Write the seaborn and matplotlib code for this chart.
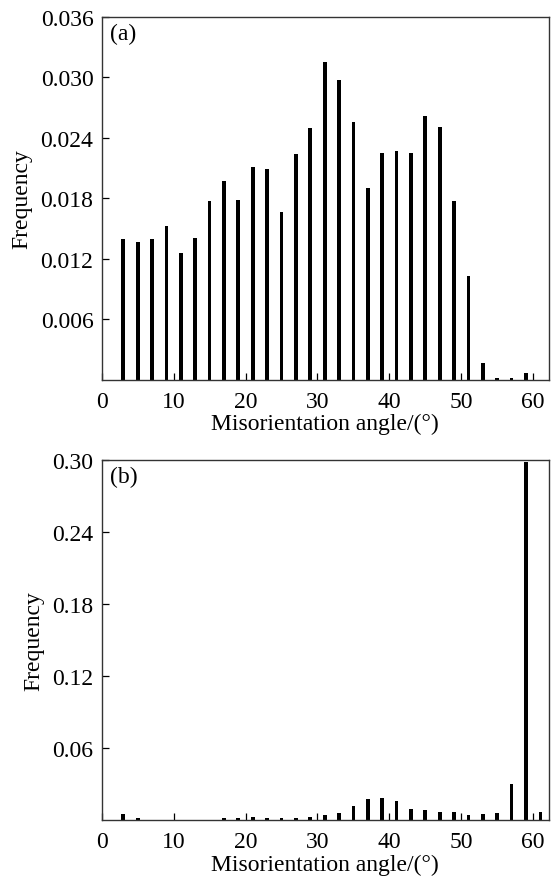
import pandas as pd
import matplotlib.pyplot as plt
import seaborn as sns

# Misorientation angle distributions, panels (a) and (b)
angles_a = [3, 5, 7, 9, 11, 13, 15, 17, 19, 21, 23, 25, 27, 29, 31,
            33, 35, 37, 39, 41, 43, 45, 47, 49, 51, 53, 55, 57, 59]
freq_a = [0.0140, 0.0137, 0.0140, 0.0153, 0.0126, 0.0141, 0.0177, 0.0197,
          0.0178, 0.0211, 0.0209, 0.0166, 0.0224, 0.0250, 0.0315, 0.0297,
          0.0256, 0.0190, 0.0225, 0.0227, 0.0225, 0.0262, 0.0251, 0.0177,
          0.0103, 0.0017, 0.0002, 0.0002, 0.0007]

angles_b = [3, 5, 7, 9, 11, 13, 15, 17, 19, 21, 23, 25, 27, 29, 31,
            33, 35, 37, 39, 41, 43, 45, 47, 49, 51, 53, 55, 57, 59, 61]
freq_b = [0.0050, 0.0017, 0.0, 0.0, 0.0, 0.0, 0.0, 0.0017, 0.0014, 0.0028,
          0.0017, 0.0020, 0.0017, 0.0025, 0.0039, 0.0056, 0.0114, 0.0173,
          0.0181, 0.0159, 0.0095, 0.0081, 0.0070, 0.0070, 0.0042, 0.0047,
          0.0059, 0.0299, 0.2980, 0.0067]

x_ticks = [0, 10, 20, 30, 40, 50, 60]
y_ticks_a = [0.006, 0.012, 0.018, 0.024, 0.030, 0.036]
y_ticks_b = [0.06, 0.12, 0.18, 0.24, 0.30]

sns.set_theme(style="ticks", rc={"text.color": "black",
                                 "axes.labelcolor": "black",
                                 "xtick.color": "black",
                                 "ytick.color": "black"})
plt.rcParams["font.family"] = ["Liberation Serif", "DejaVu Serif"]

fig = plt.figure(figsize=(5.51, 8.78), dpi=100)
ax_a = fig.add_axes([0.1846, 0.5664, 0.8118, 0.4131])
ax_b = fig.add_axes([0.1846, 0.0649, 0.8118, 0.4100])

panels = [
    (ax_a, angles_a, freq_a, y_ticks_a, "{:.3f}", 0.036, "(a)"),
    (ax_b, angles_b, freq_b, y_ticks_b, "{:.2f}", 0.30, "(b)"),
]

for ax, ang, freq, yt, fmt, ymax, tag in panels:
    df = pd.DataFrame({"angle": ang, "freq": freq})
    sns.barplot(data=df, x="angle", y="freq", native_scale=True, width=0.26,
                color="black", saturation=1, errorbar=None, linewidth=0, ax=ax)
    ax.set_xlim(0, 62.2)
    ax.set_ylim(0, ymax)
    ax.set_xticks(x_ticks)
    ax.set_xticklabels([str(t) for t in x_ticks])
    ax.set_yticks(yt)
    ax.set_yticklabels([fmt.format(t) for t in yt])
    ax.tick_params(direction="in", length=5, width=0.9, labelsize=17, pad=6)
    ax.tick_params(axis="x", pad=8)
    for s in ax.spines.values():
        s.set_linewidth(1.0)
        s.set_color("#333333")
    ax.set_xlabel("Misorientation angle/(°)", fontsize=17, labelpad=1)
    ax.set_ylabel("Frequency", fontsize=17, labelpad=6)
    ax.text(0.018, 0.985, tag, transform=ax.transAxes, fontsize=17,
            ha="left", va="top")

fig.savefig("out.png", dpi=100)
plt.close(fig)
